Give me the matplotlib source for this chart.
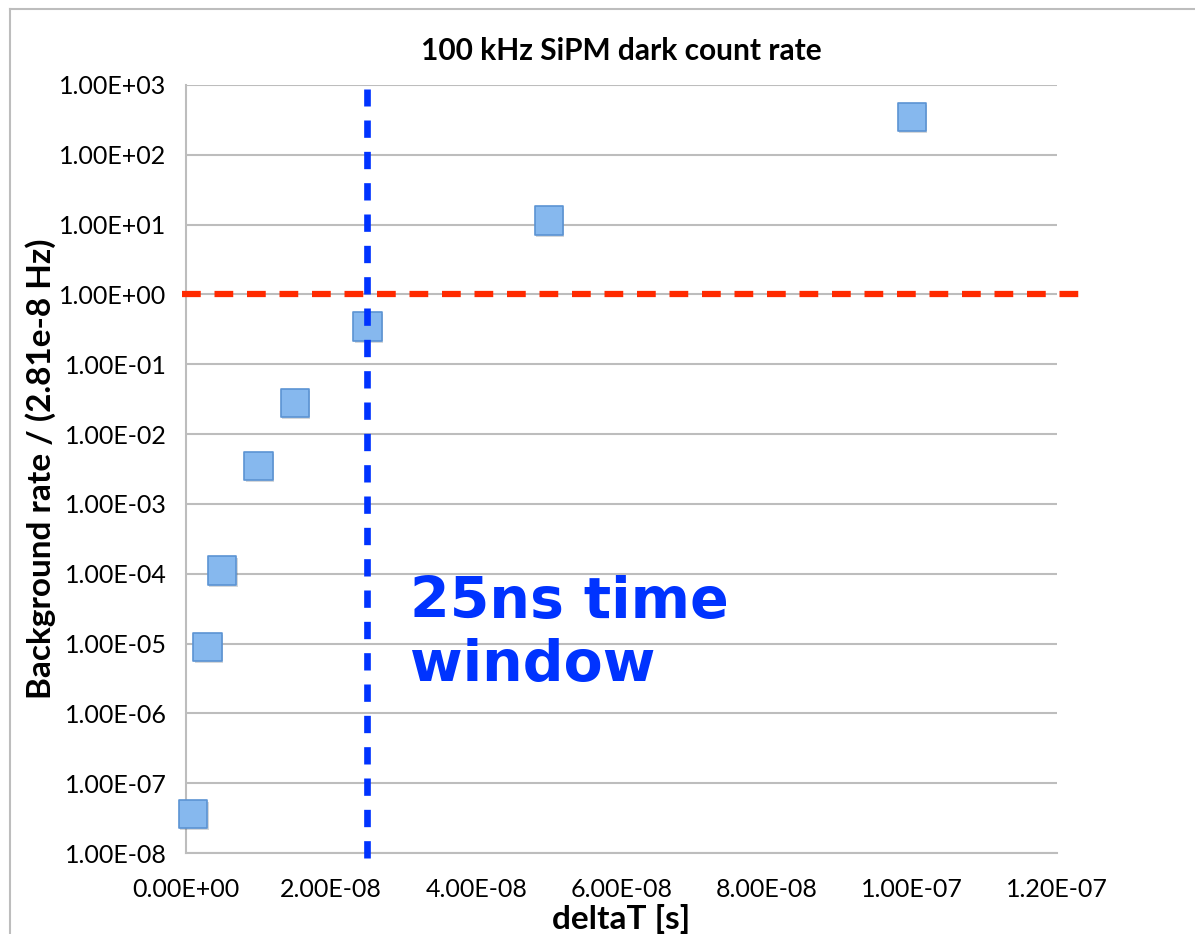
import matplotlib
matplotlib.use("Agg")
import matplotlib.pyplot as plt
import matplotlib.patheffects as pe
from matplotlib.lines import Line2D

# data
delta_t = [1e-9, 3e-9, 5e-9, 1e-8, 1.5e-8, 2.5e-8, 5e-8, 1e-7]
rate = [3.6e-8, 8.9e-6, 1.12e-4, 3.5e-3, 2.8e-2, 0.35, 11.4, 350]

x_ticks = [0, 2e-8, 4e-8, 6e-8, 8e-8, 1e-7, 1.2e-7]
x_labels = ["0.00E+00", "2.00E-08", "4.00E-08", "6.00E-08",
            "8.00E-08", "1.00E-07", "1.20E-07"]
y_ticks = [1e-8, 1e-7, 1e-6, 1e-5, 1e-4, 1e-3, 1e-2, 1e-1, 1e0, 1e1, 1e2, 1e3]
y_labels = ["1.00E-08", "1.00E-07", "1.00E-06", "1.00E-05", "1.00E-04",
            "1.00E-03", "1.00E-02", "1.00E-01", "1.00E+00", "1.00E+01",
            "1.00E+02", "1.00E+03"]

window = 2.5e-8
threshold = 1.0

plt.rcParams["font.family"] = ["Lato", "DejaVu Sans"]

fig = plt.figure(figsize=(11.95, 9.34), dpi=100)
ax = fig.add_axes([0.1556, 0.0867, 0.7289, 0.8223])

ax.set_yscale("log")
ax.set_xlim(0, 1.2e-7)
ax.set_ylim(1e-8, 1e3)
ax.set_xticks(x_ticks)
ax.set_xticklabels(x_labels)
ax.set_yticks(y_ticks)
ax.set_yticklabels(y_labels)
ax.minorticks_off()
ax.tick_params(length=0, labelsize=18, colors="black")
ax.tick_params(axis="x", pad=18)
ax.tick_params(axis="y", pad=14)

ax.grid(True, axis="y", color="#BDBDBD", linewidth=1.5)
ax.set_axisbelow(True)
for s in ("top", "right"):
    ax.spines[s].set_visible(False)
for s in ("left", "bottom"):
    ax.spines[s].set_color("#BDBDBD")
    ax.spines[s].set_linewidth(1.5)

# markers
ax.scatter(delta_t, rate, marker="s", s=420, facecolor="#86B8EE",
           edgecolor="#5B93D3", linewidth=1.2, zorder=3, clip_on=False,
           path_effects=[pe.SimplePatchShadow(offset=(1, -1.5), alpha=0.2),
                         pe.Normal()])

# reference lines
ax.axhline(threshold, xmin=-0.004, xmax=1.028, color="#FF2A00", lw=4.5,
           dashes=(3, 2.2), dash_capstyle="butt", clip_on=False, zorder=4)
ax.axvline(window, ymin=-0.007, ymax=0.995, color="#0033FF", lw=4.8,
           dashes=(2.6, 2.1), dash_capstyle="butt", clip_on=False, zorder=5)

ax.text(0.2567, 0.285, "25ns time\nwindow", transform=ax.transAxes,
        fontsize=41, fontweight="bold", color="#0033FF",
        family=["DejaVu Sans"], linespacing=1.2, va="center", ha="left")

ax.set_title("100 kHz SiPM dark count rate", fontsize=21.5, fontweight="bold",
             pad=18)
ax.set_xlabel("deltaT [s]", fontsize=24, fontweight="bold", labelpad=2)
ax.set_ylabel("Background rate / (2.81e-8 Hz)", fontsize=24,
              fontweight="bold", labelpad=2)

# outer chart frame (cut off at right and bottom)
fig.add_artist(Line2D([0.0084, 0.0084], [0, 0.9904], color="#BDBDBD",
                      lw=1.5, transform=fig.transFigure))
fig.add_artist(Line2D([0.0084, 1], [0.9904, 0.9904], color="#BDBDBD",
                      lw=1.5, transform=fig.transFigure))

fig.savefig("out.png", dpi=100)
